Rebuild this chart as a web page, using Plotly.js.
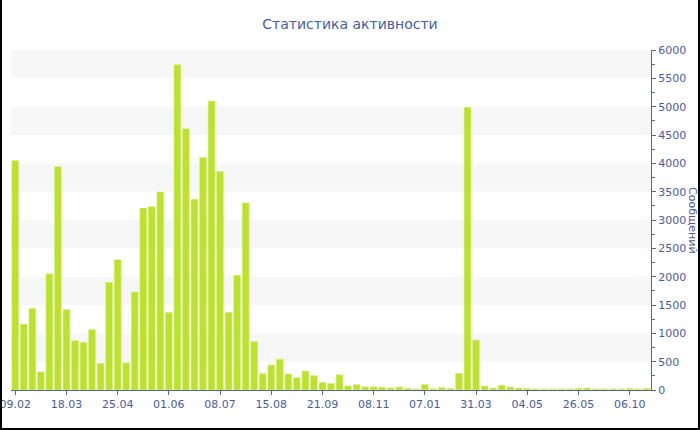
<!DOCTYPE html>
<html>
<head>
<meta charset="utf-8">
<script src="https://cdn.plot.ly/plotly-3.0.1.min.js"></script>
<style>
  html, body { margin: 0; padding: 0; background: #fff; }
  #wrap { position: relative; width: 700px; height: 430px; }
  #chart { position: absolute; left: 0; top: 0; width: 700px; height: 430px; }
  #frame { position: absolute; left: 0; top: 0; width: 700px; height: 430px; box-sizing: border-box;
           border-left: 2px solid #000; border-right: 2px solid #000; border-bottom: 2px solid #000;
           pointer-events: none; }
</style>
</head>
<body>
<div id="wrap"><div id="chart"></div><div id="frame"></div></div>
<script>
// Message counts per period
const messages = [
  4050, 1160, 1440, 320, 2050, 3940, 1420, 870, 840, 1065,
  470, 1900, 2300, 480, 1730, 3210, 3235, 3495, 1370, 5740,
  4610, 3365, 4105, 5100, 3855, 1370, 2025, 3300, 855, 290,
  440, 545, 282, 218, 335, 253, 135, 115, 268, 72,
  97, 56, 56, 50, 38, 52, 32, 18, 97, 21,
  44, 26, 294, 4990, 882, 71, 35, 85, 53, 35,
  27, 18, 18, 18, 18, 18, 29, 35, 18, 18,
  18, 18, 24, 18, 29
];
// Tick labels (every 6th period)
const tickLabels = ["09.02", "18.03", "25.04", "01.06", "08.07", "15.08", "21.09",
                    "08.11", "07.01", "31.03", "04.05", "26.05", "06.10"];
const tickStep = 6;
const titleText = "Статистика активности";
const yTitleText = "Сообщений";

const idx = messages.map((_, i) => i);
const tickVals = tickLabels.map((_, i) => i * tickStep);

const axisColor = "#5566a8";
const textColor = "#4a5c9e";
const font = "DejaVu Sans, Verdana, sans-serif";

// alternating background bands every 500
const bands = [];
for (let v = 500; v < 6000; v += 1000) {
  bands.push({type: "rect", xref: "paper", yref: "y", x0: 0, x1: 1, y0: v, y1: v + 500,
              fillcolor: "#f7f7f7", line: {width: 0}, layer: "below"});
}

const trace = {
  type: "bar",
  x: idx,
  y: messages,
  marker: {color: "#bde22e", line: {color: "#d8ef8a", width: 0.6}},
  hoverinfo: "y"
};

const layout = {
  width: 700, height: 430,
  margin: {l: 11, r: 49, t: 50, b: 40},
  paper_bgcolor: "#fff", plot_bgcolor: "#fff",
  bargap: 0.2,
  showlegend: false,
  font: {family: font, size: 11, color: textColor},
  title: {text: titleText, font: {family: font, size: 14, color: "#4560a8"},
          x: 0.5, xref: "container", y: 1 - 24 / 430, yanchor: "middle"},
  xaxis: {
    range: [-0.5, messages.length - 0.5],
    tickmode: "array", tickvals: tickVals, ticktext: tickLabels,
    ticks: "outside", ticklen: 4, tickcolor: axisColor,
    ticklabeloverflow: "allow",
    showline: true, linecolor: axisColor, linewidth: 1,
    showgrid: false, zeroline: false,
    tickfont: {family: font, size: 11, color: textColor}
  },
  yaxis: {
    side: "right", range: [0, 6000], dtick: 500, tick0: 0,
    ticks: "outside", ticklen: 4, tickcolor: axisColor,
    minor: {dtick: 250, ticks: "outside", ticklen: 3, tickcolor: axisColor, showgrid: false},
    showline: true, linecolor: axisColor, linewidth: 1,
    showgrid: false, zeroline: false,
    tickfont: {family: font, size: 11, color: textColor}
  },
  shapes: bands,
  annotations: [{
    text: yTitleText, textangle: 90, showarrow: false,
    xref: "paper", yref: "paper", x: (693 - 11) / 640, y: 0.5,
    xanchor: "center", yanchor: "middle",
    font: {family: font, size: 11, color: textColor}
  }]
};

Plotly.newPlot("chart", [trace], layout, {displayModeBar: false, staticPlot: true});
</script>
</body>
</html>
